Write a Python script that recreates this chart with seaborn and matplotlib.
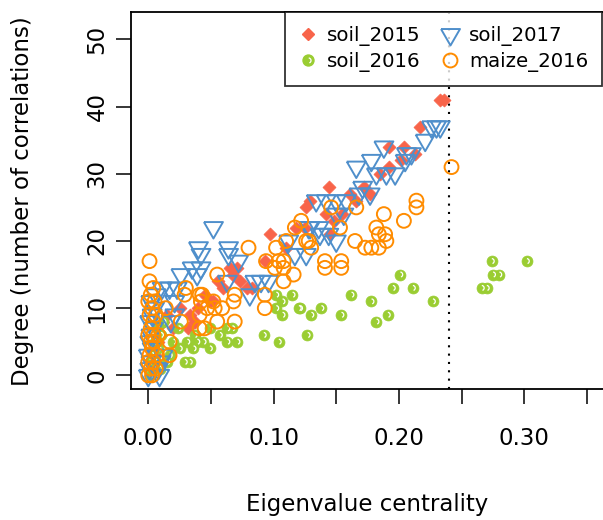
import numpy as np
import pandas as pd
import matplotlib
matplotlib.use("Agg")
import matplotlib.pyplot as plt
from matplotlib.lines import Line2D
from matplotlib.path import Path
import seaborn as sns

# soil_2015 (red diamonds)
soil15_x = [0.233, 0.236, 0.217, 0.192, 0.204, 0.213, 0.202, 0.192, 0.185, 0.144,
            0.161, 0.172, 0.177, 0.166, 0.126, 0.129, 0.142, 0.145, 0.148, 0.155,
            0.125, 0.118, 0.097, 0.110, 0.093, 0.071, 0.068, 0.073, 0.056, 0.083,
            0.079, 0.052, 0.049, 0.033, 0.037, 0.032, 0.065, 0.060, 0.045, 0.040,
            0.025, 0.020, 0.015, 0.012, 0.010, 0.008, 0.005, 0.003]
soil15_y = [41, 41, 37, 34, 34, 33, 32, 31, 30, 28,
            27, 28, 27, 26, 25, 26, 24, 21, 23, 24,
            22, 22, 21, 19, 17, 16, 15, 14, 14, 13,
            13, 11, 11, 9, 8, 7, 16, 13, 12, 10,
            10, 7, 9, 8, 6, 5, 3, 2]

# soil_2016 (green balls)
soil16_x = [0.274, 0.302, 0.275, 0.280, 0.266, 0.270, 0.201, 0.195, 0.211, 0.162,
            0.178, 0.227, 0.138, 0.130, 0.154, 0.191, 0.182, 0.127, 0.121, 0.115,
            0.102, 0.107, 0.120, 0.102, 0.107, 0.092, 0.104, 0.063, 0.067, 0.057,
            0.063, 0.071, 0.044, 0.049, 0.049, 0.037, 0.031, 0.039, 0.036, 0.029,
            0.033, 0.024, 0.020, 0.025, 0.017, 0.015, 0.002, 0.004, 0.006, 0.003,
            0.008, 0.005, 0.010, 0.007, 0.012, 0.009, 0.001]
soil16_y = [17, 17, 15, 15, 13, 13, 15, 13, 13, 12,
            11, 11, 10, 9, 9, 9, 8, 6, 10, 12,
            12, 11, 10, 10, 9, 6, 5, 7, 7, 6,
            5, 5, 5, 4, 7, 6, 5, 5, 4, 2,
            2, 7, 5, 4, 3, 2, 0, 1, 2, 3,
            4, 5, 6, 7, 8, 1, 2]

# soil_2017 (blue triangles)
soil17_x = [0.230, 0.233, 0.226, 0.221, 0.188, 0.210, 0.206, 0.205, 0.178, 0.166,
            0.182, 0.190, 0.197, 0.171, 0.177, 0.168, 0.158, 0.134, 0.142, 0.150,
            0.150, 0.156, 0.129, 0.136, 0.137, 0.144, 0.150, 0.126, 0.128, 0.117,
            0.112, 0.052, 0.040, 0.064, 0.064, 0.072, 0.063, 0.085, 0.090, 0.096,
            0.081, 0.039, 0.042, 0.035, 0.042, 0.026, 0.017, 0.011, 0.023, 0.021,
            0.021, 0.018, 0.000, 0.001, 0.002, 0.000, 0.003, 0.001, 0.002, 0.004,
            0.001, 0.003, 0.005, 0.002, 0.006, 0.008, 0.010, 0.012, 0.009]
soil17_y = [37, 37, 37, 35, 34, 33, 33, 32, 32, 31,
            30, 30, 30, 28, 27, 27, 26, 26, 26, 26,
            24, 24, 22, 22, 21, 21, 20, 18, 22, 18,
            20, 22, 19, 19, 18, 17, 14, 14, 14, 14,
            12, 15, 18, 16, 16, 15, 13, 13, 13, 11,
            9, 8, 0, 1, 2, 3, 4, 5, 6, 7,
            8, 9, 10, 11, 12, 1, 2, 3, 0]

# maize_2016 (orange circles)
maize16_x = [0.242, 0.214, 0.214, 0.188, 0.204, 0.182, 0.189, 0.184, 0.190, 0.165,
             0.173, 0.178, 0.184, 0.146, 0.166, 0.153, 0.128, 0.130, 0.141, 0.141,
             0.154, 0.154, 0.080, 0.102, 0.110, 0.094, 0.104, 0.108, 0.101, 0.108,
             0.116, 0.108, 0.093, 0.093, 0.055, 0.069, 0.068, 0.069, 0.052, 0.059,
             0.053, 0.047, 0.055, 0.043, 0.045, 0.001, 0.030, 0.029, 0.041, 0.042,
             0.014, 0.026, 0.041, 0.041, 0.017, 0.017, 0.117, 0.122, 0.126, 0.000,
             0.002, 0.004, 0.001, 0.003, 0.005, 0.000, 0.002, 0.004, 0.001, 0.003,
             0.000, 0.002, 0.004, 0.006, 0.007, 0.008, 0.006, 0.005, 0.001, 0.000,
             0.003, 0.002, 0.004]
maize16_y = [31, 26, 25, 24, 23, 22, 21, 21, 20, 20,
             19, 19, 19, 25, 25, 22, 20, 19, 17, 16,
             17, 16, 19, 19, 20, 17, 17, 17, 16, 16,
             15, 14, 12, 10, 15, 12, 11, 8, 11, 10,
             10, 10, 8, 12, 7, 17, 13, 12, 12, 11,
             10, 8, 9, 7, 5, 3, 22, 23, 20, 0,
             1, 2, 3, 4, 5, 6, 7, 8, 9, 10,
             11, 12, 13, 1, 3, 6, 9, 11, 14, 2,
             0, 5, 6]

red = "#F8644A"
green = "#9ACD32"
blue = "#4F8FCB"
orange = "#FF8C00"

plt.rcParams["font.family"] = ["DejaVu Sans"]

fig = plt.figure(figsize=(6.03, 5.20), dpi=100)
ax = fig.add_axes([0.2168, 0.2513, 0.7855, 0.7256])

# equilateral downward triangle (R pch 6)
tri = [(-1, 0.577), (1, 0.577), (0, -1.155), (-1, 0.577)]
# small white highlight arc on the green balls
arc = Path.arc(-70, 85)

df15 = pd.DataFrame({"x": soil15_x, "y": soil15_y})
df16 = pd.DataFrame({"x": soil16_x, "y": soil16_y})
df17 = pd.DataFrame({"x": soil17_x, "y": soil17_y})
dfm = pd.DataFrame({"x": maize16_x, "y": maize16_y})

sns.scatterplot(data=df15, x="x", y="y", ax=ax, marker="D", s=44,
                color=red, edgecolor=red, linewidth=0.5, zorder=3)
sns.scatterplot(data=df16, x="x", y="y", ax=ax, marker="o", s=62,
                color=green, edgecolor=green, linewidth=0.5, zorder=3)
sns.scatterplot(data=df16, x="x", y="y", ax=ax, marker=arc, s=14,
                color="white", facecolor="none", edgecolor="white",
                linewidth=0.9, zorder=3)
sns.scatterplot(data=df17, x="x", y="y", ax=ax, marker=tri, s=250,
                color=blue, facecolor="none", edgecolor=blue,
                linewidth=1.4, zorder=4)
sns.scatterplot(data=dfm, x="x", y="y", ax=ax, marker="o", s=100,
                color=orange, facecolor="none", edgecolor=orange,
                linewidth=1.4, zorder=5)

ax.axvline(0.24, color="black", linestyle=(0, (1, 3)), linewidth=1.5, zorder=2)

ax.set_xlim(-0.014, 0.364)
ax.set_ylim(-2.08, 54.08)
ax.set_xticks([0.0, 0.05, 0.10, 0.15, 0.20, 0.25, 0.30, 0.35])
ax.set_xticklabels(["0.00", "", "0.10", "", "0.20", "", "0.30", ""])
ax.set_yticks([0, 10, 20, 30, 40, 50])
ax.set_yticklabels(["0", "10", "20", "30", "40", "50"], rotation=90, va="center")
ax.tick_params(axis="both", direction="out", length=11, width=1.1,
               labelsize=16.5, color="black")
ax.tick_params(axis="x", pad=16)
ax.tick_params(axis="y", pad=5)
for sp in ax.spines.values():
    sp.set_linewidth(1.3)
    sp.set_color("black")

ax.set_xlabel("Eigenvalue centrality", fontsize=16.5, labelpad=31)
ax.set_ylabel("Degree (number of correlations)", fontsize=16.5, labelpad=37)

handles = [
    Line2D([], [], linestyle="none", marker="D", markersize=6.6, color=red),
    (Line2D([], [], linestyle="none", marker="o", markersize=7.9, color=green),
     Line2D([], [], linestyle="none", marker=arc, markersize=3.7,
            markerfacecolor="none", markeredgecolor="white", markeredgewidth=0.9)),
    Line2D([], [], linestyle="none", marker=tri, markersize=15.8,
           markerfacecolor="none", markeredgecolor=blue, markeredgewidth=1.4),
    Line2D([], [], linestyle="none", marker="o", markersize=10,
           markerfacecolor="none", markeredgecolor=orange, markeredgewidth=1.4),
]
labels = ["soil_2015", "soil_2016", "soil_2017", "maize_2016"]
leg = fig.legend(handles, labels, ncol=2, loc="upper right",
                 bbox_to_anchor=(602 / 603, 1 - 12 / 520), borderaxespad=0,
                 fontsize=14.2, frameon=True, fancybox=False,
                 handlelength=1.0, handletextpad=0.45, columnspacing=1.0,
                 borderpad=0.7, labelspacing=0.3)
leg.get_frame().set_edgecolor("black")
leg.get_frame().set_linewidth(1.3)
leg.set_zorder(10)

fig.savefig("out.png", dpi=100)
